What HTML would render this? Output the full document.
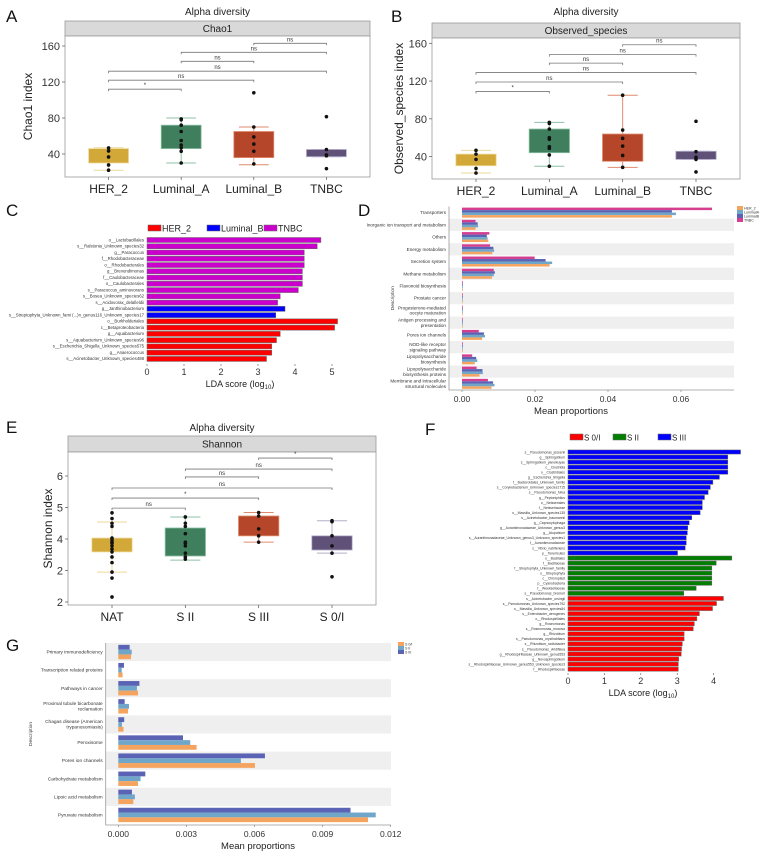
<!DOCTYPE html>
<html><head><meta charset="utf-8"><style>
html,body{margin:0;padding:0;background:#fff;}
svg{display:block;font-family:"Liberation Sans",sans-serif;}
</style></head><body>
<svg id="fig" width="766" height="852" viewBox="0 0 766 852"></svg>
<script>
// ---------- DATA ----------
const boxCats=['HER_2','Luminal_A','Luminal_B','TNBC'];
const aQ1=[30,46,36,37], aQ3=[46,72,65,45], aLo=[22,30,28,37], aHi=[47,80,70,45];
const aPts=[[46.7,43.3,36.7,27.8,22],[79,78,72,65,55,50,47,43,30],[108,70,59,51,43,29],[81.5,45,39,38,23.7]];
const aBrFrom=[0,0,0,1,1,2], aBrTo=[1,2,3,2,3,3], aBrLab=['*','ns','ns','ns','ns','ns'], aBrVal=[112,122,132,143,153,163];
const bQ1=[30.3,44.1,35,37], bQ3=[42.6,69.2,63.9,45.6], bLo=[22.6,29.7,28.6,37], bHi=[46.6,76.2,105,45.6];
const bPts=[[46.6,42.6,37,27.4,22.6],[76.2,75.1,69.2,60,58.3,50.5,48.7,41.7,29.7],[105,68.1,59.3,51.1,41.2,28.6],[77.4,45.2,39.2,37,23.7]];
const bBrVal=[109,119,129,139,148,158.5];
const boxTicks=[40,80,120,160];
const eCats=['NAT','S II','S III','S 0/I'];
const eQ1=[3.59,3.46,4.1,3.65], eQ3=[4.03,4.35,4.73,4.1], eLo=[2.95,3.33,3.9,3.55], eHi=[4.54,4.7,4.84,4.58];
const ePts=[[4.83,4.65,4.5,4.4,4.03,3.97,3.9,3.87,3.78,3.68,3.59,3.43,3.25,2.95,2.76,2.16],[4.7,4.5,4.4,4.17,3.9,3.87,3.78,3.55,3.43,3.36],[4.84,4.73,4.32,4.1,3.9],[4.58,4.55,4.1,3.78,3.55,2.8]];
const eBrFrom=[0,0,0,1,1,2], eBrTo=[1,2,3,2,3,3], eBrLab=['ns','*','ns','ns','ns','*'], eBrVal=[4.98,5.3,5.62,5.97,6.22,6.57];
const eTicks=[2,3,4,5,6], eTickLabels=['2','2','4','5','6'];
const cLabels=['o__Lactobacillales','s__Ralstonia_Unknown_species32','g__Paracoccus','f__Rhodobacteraceae','o__Rhodobacterales','g__Brevundimonas','f__Caulobacteraceae','o__Caulobacterales','s__Paracoccus_aminovorans','s__Bosea_Unknown_species62','s__Acidovorax_delafieldii','g__Janthinobacterium','s__Streptophyta_Unknown_fami (...)n_genus116_Unknown_species17','o__Burkholderiales','c__Betaproteobacteria','g__Aquabacterium','s__Aquabacterium_Unknown_species96','s__Escherichia_Shigella_Unknown_species575','g__Anaerococcus','s__Acinetobacter_Unknown_species488'];
const cValues=[4.7,4.6,4.25,4.25,4.25,4.2,4.2,4.2,4.09,3.6,3.53,3.73,3.48,5.15,5.07,3.6,3.5,3.37,3.37,3.23];
const cGroups=['TNBC','TNBC','TNBC','TNBC','TNBC','TNBC','TNBC','TNBC','TNBC','TNBC','TNBC','Luminal_B','Luminal_B','HER_2','HER_2','HER_2','HER_2','HER_2','HER_2','HER_2'];
const cTicks=[0,1,2,3,4,5];
const dLabels=['Transporters','Inorganic ion transport and metabolism','Others','Energy metabolism','Secretion system','Methane metabolism','Flavonoid biosynthesis','Prostate cancer','Progesterone-mediated|oocyte maturation','Antigen processing and|presentation','Pores ion channels','NOD-like receptor|signaling pathway','Lipopolysaccharide|biosynthesis','Lipopolysaccharide|biosynthesis proteins','Membrane and intracellular|structural molecules'];
const dTNBC=[0.0685,0.0037,0.0075,0.0077,0.0199,0.0087,0.0002,0.0002,0.0002,0.0002,0.0046,0.0002,0.0028,0.004,0.0071];
const dLumB=[0.0575,0.0043,0.0068,0.0086,0.0229,0.009,0.0002,0.0002,0.0002,0.0002,0.006,0.0002,0.0039,0.0056,0.0085];
const dLumA=[0.0586,0.0044,0.007,0.0088,0.0247,0.0087,0.0002,0.0002,0.0002,0.0002,0.0063,0.0002,0.0042,0.0057,0.0089];
const dHER2=[0.0575,0.0037,0.0072,0.0083,0.024,0.0082,0.0002,0.0002,0.0002,0.0002,0.0055,0.0002,0.0035,0.0048,0.0081];
const dTicks=[0,0.02,0.04,0.06], dTickLabels=['0.00','0.02','0.04','0.06'];
const fLabels=['s__Pseudomonas_jessenii','g__Sphingobium','s__Sphingobium_yanoikuyae','c__Clostridia','o__Clostridiales','g__Escherichia_Shigella','f__Bacteroidales_Unknown_family','s__Corynebacterium_Unknown_species1715','s__Pseudomonas_fulva','g__Peptoniphilus','o__Neisseriales','f__Neisseriaceae','s__Massilia_Unknown_species135','s__Acinetobacter_baumannii','g__Capnocytophaga','g__Aurantimonadaceae_Unknown_genus3','g__Atopobium','s__Aurantimonadaceae_Unknown_genus3_Unknown_species1','f__Aurantimonadaceae','s__Vibrio_natriferiens','p__Tenericutes','o__Bacillales','f__Bacillaceae','f__Streptophyta_Unknown_family','o__Streptophyta','c__Chloroplast','p__Cyanobacteria','f__Weeksellaceae','s__Pseudomonas_bremeri','s__Acinetobacter_ursingii','s__Pseudomonas_Unknown_species792','s__Massilia_Unknown_species84','s__Enterobacter_aerogenes','o__Rhodospirillales','g__Roseomonas','s__Roseomonas_mucosa','g__Rhizobium','s__Pseudomonas_oryzihabitans','s__Rhizobium_radiobacter','s__Pseudomonas_viridiflava','g__Rhodospirillaceae_Unknown_genus553','g__Novosphingobium','s__Rhodospirillaceae_Unknown_genus553_Unknown_species3','f__Rhodospirillaceae'];
const fValues=[4.74,4.39,4.39,4.39,4.39,4.16,3.98,3.91,3.85,3.75,3.69,3.69,3.63,3.4,3.33,3.29,3.28,3.25,3.25,3.22,3.01,4.5,4.07,3.95,3.95,3.95,3.95,3.52,3.18,4.27,4.08,3.97,3.61,3.54,3.47,3.44,3.19,3.19,3.14,3.12,3.11,3.04,3.03,3.03];
const fGroups=Array(21).fill('S III').concat(Array(8).fill('S II')).concat(Array(15).fill('S 0/I'));
const fTicks=[0,1,2,3,4];
const gLabels=['Primary immunodeficiency','Transcription related proteins','Pathways in cancer','Proximal tubule bicarbonate|reclamation','Chagas disease (American|trypanosomiasis)','Peroxisome','Pores ion channels','Carbohydrate metabolism','Lipoic acid metabolism','Pyruvate metabolism'];
const gS3=[0.0005,0.00025,0.00093,0.00028,0.00026,0.00285,0.00646,0.00119,0.0006,0.01023];
const gS2=[0.00059,0.00015,0.00082,0.00047,0.00016,0.00317,0.0054,0.00098,0.00073,0.01134];
const gS01=[0.00056,0.00019,0.00087,0.00043,0.00023,0.00345,0.00602,0.00087,0.00066,0.011];
const gTicks=[0,0.003,0.006,0.009,0.012], gTickLabels=['0.000','0.003','0.006','0.009','0.012'];

// ---------- HELPERS ----------
const NS='http://www.w3.org/2000/svg';
const svg=document.getElementById('fig');
function mk(tag,attrs,parent){const e=document.createElementNS(NS,tag);for(const k in attrs)e.setAttribute(k,attrs[k]);(parent||svg).appendChild(e);return e;}
function txt(x,y,s,size,anchor,fill){const e=mk('text',{x:x,y:y,'font-size':size,'text-anchor':anchor||'start',fill:fill||'#222'});e.textContent=s;return e;}
function multiline(x,y,s,size,anchor,lh){const parts=s.split('|');const e=mk('text',{x:x,y:y-(parts.length-1)*lh/2,'font-size':size,'text-anchor':anchor,fill:'#333'});parts.forEach((p,i)=>{const t=mk('tspan',{x:x,dy:i?lh:0},e);t.textContent=p;});return e;}

function letter(x,y,s){const e=txt(x,y,s,17,'start','#111');

}

// ---------- BOX PANEL ----------
function boxPanel(p){
  const step=(p.x1-p.x0)/4.2;
  const cx=i=>p.x0+(0.6+i)*step;
  const yOf=v=>p.yTop+(p.vTop-v)*p.pxPer;
  let e=txt((p.x0+p.x1)/2,p.titleY,'Alpha diversity',10,'middle');
  
  
  e=mk('rect',{x:p.x0,y:p.sy0,width:p.x1-p.x0,height:p.sy1-p.sy0,fill:'#d9d9d9',stroke:'#9a9a9a','stroke-width':0.8});
  
  
  e=txt((p.x0+p.x1)/2,p.sy0+(p.sy1-p.sy0)/2+3.5,p.strip,10,'middle');
  
  
  e=mk('rect',{x:p.x0,y:p.sy1,width:p.x1-p.x0,height:p.py1-p.sy1,fill:'#fff',stroke:'#9a9a9a','stroke-width':0.8});
  
  
  p.ticks.forEach((t,i)=>{
    const y=yOf(t);
    let l=mk('line',{x1:p.x0-3,x2:p.x0,y1:y,y2:y,stroke:'#555','stroke-width':0.7});
    
    
    let tl=txt(p.x0-5,y+4,p.tickLabels[i],11,'end','#333');
    
    
  });
  const yt=txt(0,0,p.ytitle,12,'middle','#222');
  yt.setAttribute('transform','translate('+p.ytx+','+((p.sy1+p.py1)/2)+') rotate(-90)');
  
  
  p.cats.forEach((c,i)=>{
    const x=cx(i);
    let tk=mk('line',{x1:x,x2:x,y1:p.py1,y2:p.py1+3,stroke:'#555','stroke-width':0.7});
    
    
    let cl=txt(x,p.py1+16,c,12,'middle','#222');
    
    
    const col=p.colors[i], lt=p.light[i];
    const hw=step*0.275, cw=step*0.205;
    let w=mk('line',{x1:x,x2:x,y1:yOf(p.hi[i]),y2:yOf(p.lo[i]),stroke:lt,'stroke-width':1});
    
    
    [p.hi[i],p.lo[i]].forEach(v=>{
      let cap=mk('line',{x1:x-cw,x2:x+cw,y1:yOf(v),y2:yOf(v),stroke:lt,'stroke-width':1});
      
      
    });
    let b=mk('rect',{x:x-hw,y:yOf(p.q3[i]),width:2*hw,height:yOf(p.q1[i])-yOf(p.q3[i]),fill:col,stroke:lt,'stroke-width':0.8});
    
    
    p.pts[i].forEach(v=>{
      let d=mk('circle',{cx:x,cy:yOf(v),r:1.8,fill:'#111'});
      
      
    });
  });
  p.brFrom.forEach((f,k)=>{
    const y=yOf(p.brVal[k]), xa=cx(f), xb=cx(p.brTo[k]);
    let br=mk('path',{d:'M'+xa+','+(y+2)+'V'+y+'H'+xb+'V'+(y+2),fill:'none',stroke:'#777','stroke-width':0.8});
    
    
    let bl=txt((xa+xb)/2,y-2,p.brLab[k],6,'middle','#333');
    
    
  });
}
const boxColors=['#d2a938','#3f7f5d','#b5462a','#5f5178'];
const boxLight=['#ecd99a','#8cc0a4','#e08a6c','#b5adc8'];
boxPanel({x0:65,x1:370,sy0:21,sy1:36,py1:177,yTop:46,vTop:160,pxPer:0.9,titleY:15,strip:'Chao1',ytitle:'Chao1 index',ytx:32,
  cats:boxCats,q1:aQ1,q3:aQ3,lo:aLo,hi:aHi,pts:aPts,brFrom:aBrFrom,brTo:aBrTo,brLab:aBrLab,brVal:aBrVal,ticks:boxTicks,tickLabels:boxTicks.map(String),colors:boxColors,light:boxLight});
boxPanel({x0:432,x1:740,sy0:23,sy1:38,py1:179,yTop:43.3,vTop:160,pxPer:0.944,titleY:15,strip:'Observed_species',ytitle:'Observed_species index',ytx:403,
  cats:boxCats,q1:bQ1,q3:bQ3,lo:bLo,hi:bHi,pts:bPts,brFrom:aBrFrom,brTo:aBrTo,brLab:aBrLab,brVal:bBrVal,ticks:boxTicks,tickLabels:boxTicks.map(String),colors:boxColors,light:boxLight});
boxPanel({x0:68,x1:376,sy0:436,sy1:452,py1:605,yTop:476,vTop:6,pxPer:31.5,titleY:431,strip:'Shannon',ytitle:'Shannon index',ytx:52,
  cats:eCats,q1:eQ1,q3:eQ3,lo:eLo,hi:eHi,pts:ePts,brFrom:eBrFrom,brTo:eBrTo,brLab:eBrLab,brVal:eBrVal,ticks:eTicks,tickLabels:eTickLabels,colors:boxColors,light:boxLight});

// ---------- LDA BAR PANELS ----------
function ldaPanel(p){
  const xOf=v=>p.x0+v*p.ppu;
  p.legend.forEach((g,i)=>{
    let r=mk('rect',{x:p.legX[i],y:p.legY-3,width:13,height:6,fill:p.colorMap[g],stroke:'#666','stroke-width':0.5});
    
    
    let t=txt(p.legX[i]+14,p.legY+3.5,g,p.legSize,'start','#222');
    
    
  });
  p.labels.forEach((l,i)=>{
    const y=p.y0+i*p.rowH;
    let b=mk('rect',{x:p.x0,y:y-p.barH/2,width:xOf(p.values[i])-p.x0,height:p.barH,fill:p.colorMap[p.groups[i]],stroke:'#666','stroke-width':0.5});
    
    
    let t=txt(p.x0-3,y+1.3,l,p.labSize,'end','#333');
    
    
  });
  p.ticks.forEach(v=>{
    let tk=mk('line',{x1:xOf(v),x2:xOf(v),y1:p.axisY,y2:p.axisY+2,stroke:'#555','stroke-width':0.6});
    
    
    let tl=txt(xOf(v),p.axisY+11,String(v),9,'middle','#333');
    
    
  });
  const at=txt(p.titleX,p.axisY+23,'LDA score (log',9,'middle','#222');
  const sub=mk('tspan',{'font-size':6,dy:2},at);sub.textContent='10';
  const cl=mk('tspan',{dy:-2},at);cl.textContent=')';
  
  
}
ldaPanel({x0:147,ppu:37,y0:240,rowH:6.26,barH:5,labSize:4.3,labels:cLabels,values:cValues,groups:cGroups,ticks:cTicks,axisY:364,titleX:240,
  legend:['HER_2','Luminal_B','TNBC'],legX:[148,207,264],legY:228,legSize:9,colorMap:{'HER_2':'#ff0000','Luminal_B':'#0000ff','TNBC':'#cc00cc'}});
ldaPanel({x0:568,ppu:36.4,y0:452,rowH:5.05,barH:4.1,labSize:3.4,labels:fLabels,values:fValues,groups:fGroups,ticks:fTicks,axisY:673,titleX:643,
  legend:['S 0/I','S II','S III'],legX:[570,613,658],legY:437,legSize:8,colorMap:{'S 0/I':'#ff0000','S II':'#007f00','S III':'#0000ff'}});

// ---------- MEAN PROPORTION PANELS ----------
function propPanel(p){
  const xOf=v=>p.zero+v*p.ppu;
  p.labels.forEach((l,i)=>{
    const yc=p.yTop+(i+0.5)*p.rowH;
    if(i%2===p.grayParity){
      let band=mk('rect',{x:p.axX,y:p.yTop+i*p.rowH,width:p.right-p.axX,height:p.rowH,fill:'#efefef'});
      
      
    }
    const n=p.series.length, bh=p.barH;
    p.series.forEach((s,k)=>{
      const y=yc-n*bh/2+k*bh;
      let b=mk('rect',{x:p.zero,y:y,width:Math.max(0.4,xOf(s[i])-p.zero),height:bh,fill:p.colors[k]});
      
      
    });
    let t=multiline(p.axX-3,yc+1.5,l,p.labSize,'end',p.labSize*1.15);
    
    
  });
  let ax=mk('path',{d:'M'+p.axX+','+p.yTop+'V'+p.yBot+'H'+p.right,fill:'none',stroke:'#999','stroke-width':0.8});
  
  
  p.ticks.forEach((v,i)=>{
    let tk=mk('line',{x1:xOf(v),x2:xOf(v),y1:p.yBot,y2:p.yBot+2,stroke:'#777','stroke-width':0.6});
    
    
    let tl=txt(xOf(v),p.yBot+12,p.tickLabels[i],8.5,'middle','#333');
    
    
  });
  let xt=txt(p.titleX,p.yBot+24,'Mean proportions',9.5,'middle','#222');
  
  
  let yt=txt(0,0,'Description',4.8,'middle','#333');
  yt.setAttribute('transform','translate('+p.descX+','+((p.yTop+p.yBot)/2)+') rotate(-90)');
  
  
  p.legNames.forEach((nm,i)=>{
    let r=mk('rect',{x:p.legX,y:p.legY+i*4,width:6,height:4,fill:p.legColors[i]});
    
    
    let t=txt(p.legX+7,p.legY+i*4+3.3,nm,3.6,'start','#333');
    
    
  });
}
propPanel({labels:dLabels,series:[dTNBC,dLumB,dLumA,dHER2],names:['TNBC','LuminalB','LuminalA','HER_2'],colors:['#d63f8f','#5b63b5','#6fa6c9','#f4a45f'],
  zero:462,ppu:3650,axX:449,right:734,yTop:206.5,yBot:390,rowH:12.23,barH:2.5,grayParity:1,labSize:4.6,ticks:dTicks,tickLabels:dTickLabels,titleX:571,descX:394,
  legNames:['HER_2','LuminalA','LuminalB','TNBC'],legColors:['#f4a45f','#6fa6c9','#5b63b5','#d63f8f'],legX:737,legY:206});
propPanel({labels:gLabels,series:[gS3,gS2,gS01],names:['S-III','S-II','S-0-I'],colors:['#5b63b5','#6fa6c9','#f4a45f'],
  zero:118.3,ppu:22700,axX:105.7,right:391,yTop:643,yBot:825,rowH:18.1,barH:4.8,grayParity:0,labSize:4.8,ticks:gTicks,tickLabels:gTickLabels,titleX:258,descX:32,
  legNames:['S 0/I','S II','S III'],legColors:['#f4a45f','#6fa6c9','#5b63b5'],legX:398,legY:642});

letter(6,22,'A');letter(391,22,'B');letter(6,216,'C');letter(358,216,'D');
letter(6,433,'E');letter(425,435,'F');letter(6,651,'G');
</script>
</body></html>
